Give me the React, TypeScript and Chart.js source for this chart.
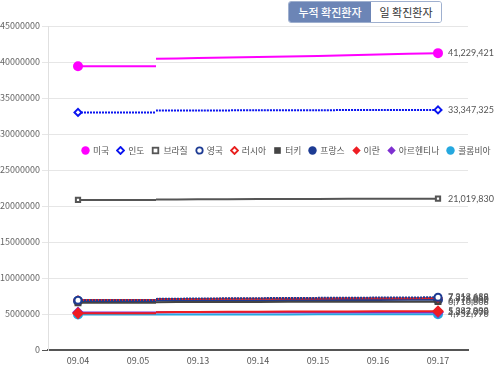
import React, { useEffect, useRef } from "react";
import { Chart, registerables } from "chart.js";

Chart.register(...registerables);

// x categories
const labels = ["09.04", "09.05", "09.13", "09.14", "09.15", "09.16", "09.17"];
// position on the category axis where every line restarts
const breakPos = 1.3;

// y axis
const yMax = 45000000;
const yStep = 5000000;

// legend / series names
const names = ["미국", "인도", "브라질", "영국", "러시아", "터키", "프랑스", "이란", "아르헨티나", "콜롬비아"];

// values per date (09.04, 09.05, 09.13 ... 09.17) and value where the line restarts
const usa = [39400000, 39400000, 40550000, 40700000, 40850000, 41050000, 41229421];
const usaRestart = 40450000;
const india = [33000000, 33000000, 33270000, 33290000, 33310000, 33330000, 33347325];
const indiaRestart = 33250000;
const brazil = [20850000, 20850000, 20930000, 20960000, 20980000, 21000000, 21019830];
const brazilRestart = 20900000;
const uk = [6900000, 6900000, 7150000, 7200000, 7240000, 7280000, 7318688];
const ukRestart = 7100000;
const russia = [6950000, 6950000, 7100000, 7130000, 7160000, 7190000, 7214819];
const russiaRestart = 7080000;
const turkey = [6550000, 6550000, 6660000, 6680000, 6695000, 6705000, 6716808];
const turkeyRestart = 6640000;
const france = [6820000, 6820000, 6900000, 6920000, 6940000, 6960000, 6976000];
const franceRestart = 6880000;
const iran = [5100000, 5100000, 5290000, 5320000, 5345000, 5365000, 5382998];
const iranRestart = 5260000;
const argentina = [5210000, 5210000, 5235000, 5238000, 5241000, 5244000, 5247000];
const argentinaRestart = 5230000;
const colombia = [4930000, 4930000, 4942000, 4945000, 4948000, 4950000, 4952976];
const colombiaRestart = 4940000;

const seriesValues = [usa, india, brazil, uk, russia, turkey, france, iran, argentina, colombia];
const seriesRestart = [usaRestart, indiaRestart, brazilRestart, ukRestart, russiaRestart, turkeyRestart, franceRestart, iranRestart, argentinaRestart, colombiaRestart];

type Style = { color: string; fill: string; shape: "circle" | "rectRot" | "rect"; dash: number[]; r: number };
const styles: Style[] = [
  { color: "#ff00ff", fill: "#ff00ff", shape: "circle", dash: [], r: 4 },
  { color: "#0a14f0", fill: "#ffffff", shape: "rectRot", dash: [2, 1], r: 3.5 },
  { color: "#555555", fill: "#ffffff", shape: "rect", dash: [], r: 3 },
  { color: "#1d3b93", fill: "#ffffff", shape: "circle", dash: [2, 1], r: 3.5 },
  { color: "#e8201f", fill: "#ffffff", shape: "rectRot", dash: [], r: 3.5 },
  { color: "#444444", fill: "#444444", shape: "rect", dash: [], r: 3.5 },
  { color: "#1d3b93", fill: "#1d3b93", shape: "circle", dash: [], r: 4 },
  { color: "#ee1d23", fill: "#ee1d23", shape: "rectRot", dash: [], r: 4.5 },
  { color: "#7e2fd0", fill: "#7e2fd0", shape: "rectRot", dash: [], r: 4.5 },
  { color: "#25a8df", fill: "#25a8df", shape: "circle", dash: [], r: 4 },
];

const FONT = "'Noto Sans CJK KR', 'Noto Sans', sans-serif";

const endLabels = {
  id: "endLabels",
  afterDatasetsDraw(chart: any) {
    const ctx = chart.ctx;
    ctx.save();
    ctx.font = "9px Lato, 'Noto Sans', sans-serif";
    ctx.fillStyle = "#555";
    ctx.textBaseline = "middle";
    ctx.textAlign = "left";
    chart.data.datasets.forEach((ds: any, i: number) => {
      if (!ds.isAfter) return;
      const meta = chart.getDatasetMeta(i);
      const el = meta.data[meta.data.length - 1];
      const v = ds.data[ds.data.length - 1].y;
      ctx.fillText(v.toLocaleString("en-US"), el.x + 10, el.y);
    });
    ctx.restore();
  },
};

function Marker({ s }: { s: Style }) {
  const sz = 9;
  const sw = s.fill === "#ffffff" ? 1.8 : 0;
  let shape: any;
  if (s.shape === "circle") shape = <circle cx={4.5} cy={4.5} r={sw ? 3.2 : 4.2} fill={s.fill} stroke={s.color} strokeWidth={sw} />;
  else if (s.shape === "rect") shape = <rect x={sw ? 1.7 : 1.2} y={sw ? 1.7 : 1.2} width={sw ? 5.6 : 6.6} height={sw ? 5.6 : 6.6} fill={s.fill} stroke={s.color} strokeWidth={sw} />;
  else shape = <polygon points={sw ? "4.5,1 8,4.5 4.5,8 1,4.5" : "4.5,0.3 8.7,4.5 4.5,8.7 0.3,4.5"} fill={s.fill} stroke={s.color} strokeWidth={sw} />;
  return (
    <svg width={sz} height={sz} style={{ display: "block" }}>
      {shape}
    </svg>
  );
}

export default function App() {
  const ref = useRef<HTMLCanvasElement | null>(null);
  useEffect(() => {
    if (!ref.current) return;
    const datasets: any[] = [];
    seriesValues.forEach((vals, i) => {
      const s = styles[i];
      datasets.push({
        label: names[i],
        data: [
          { x: 0, y: vals[0] },
          { x: 1, y: vals[1] },
          { x: breakPos, y: vals[1] },
        ],
        borderColor: s.color,
        backgroundColor: s.fill,
        borderWidth: 2,
        borderDash: s.dash,
        pointStyle: s.shape,
        pointRadius: [s.r, 0, 0],
        pointBorderWidth: 2,
        pointBorderColor: s.color,
        pointBackgroundColor: s.fill,
        tension: 0,
        order: i,
      });
    });
    seriesValues.forEach((vals, i) => {
      const s = styles[i];
      const pts = [{ x: breakPos, y: seriesRestart[i] }, ...vals.slice(2).map((y, k) => ({ x: k + 2, y }))];
      datasets.push({
        label: names[i],
        isAfter: true,
        data: pts,
        borderColor: s.color,
        backgroundColor: s.fill,
        borderWidth: 2,
        borderDash: s.dash,
        pointStyle: s.shape,
        pointRadius: pts.map((_, k) => (k === pts.length - 1 ? s.r : 0)),
        pointBorderWidth: 2,
        pointBorderColor: s.color,
        pointBackgroundColor: s.fill,
        tension: 0.3,
        order: i,
      });
    });
    const chart = new Chart(ref.current, {
      type: "line",
      data: { datasets },
      plugins: [endLabels],
      options: {
        animation: false,
        responsive: false,
        layout: { padding: { top: 26, right: 32, left: 0, bottom: 0 } },
        plugins: { legend: { display: false }, tooltip: { enabled: false } },
        scales: {
          x: {
            type: "linear",
            min: -0.5,
            max: 6.5,
            afterBuildTicks: (a: any) => {
              a.ticks = labels.map((_, i) => ({ value: i }));
            },
            afterFit: (s: any) => {
              s.height = 20;
            },
            ticks: {
              autoSkip: false,
              maxRotation: 0,
              padding: 5,
              color: "#555",
              font: { size: 9, family: FONT },
              callback: (v: any) => labels[v] ?? "",
            },
            grid: { display: false, drawTicks: false },
            border: { color: "#555", width: 2 },
          },
          y: {
            min: 0,
            max: yMax,
            afterFit: (s: any) => {
              s.width = 48;
            },
            ticks: {
              stepSize: yStep,
              padding: 2,
              color: "#666",
              font: { size: 9, family: FONT },
              callback: (v: any) => String(v),
            },
            grid: {
              color: (c: any) => (c.tick && c.tick.value === 0 ? "#555" : "#e6e6e6"),
              tickLength: 6,
            },
            border: { color: "#e0e0e0" },
          },
        },
      } as any,
    });
    return () => chart.destroy();
  }, []);

  return (
    <div style={{ position: "absolute", left: 0, top: 0, width: 500, height: 370, background: "#fff", fontFamily: FONT }}>
      <canvas ref={ref} width={500} height={370} style={{ position: "absolute", left: 0, top: 0 }} />
      <div
        style={{
          position: "absolute",
          left: 288,
          top: 1,
          height: 20,
          display: "flex",
          border: "1px solid #9fb0cf",
          borderRadius: 3,
          overflow: "hidden",
          fontSize: 11,
          lineHeight: "20px",
        }}
      >
        <div style={{ width: 82, background: "#6c85b6", color: "#fff", textAlign: "center", fontWeight: 500 }}>누적 확진환자</div>
        <div style={{ width: 70, background: "#fff", color: "#333", textAlign: "center" }}>일 확진환자</div>
      </div>
      <div
        style={{
          position: "absolute",
          left: 81,
          top: 144,
          display: "flex",
          alignItems: "center",
          fontSize: 8.8,
          color: "#555",
          whiteSpace: "nowrap",
        }}
      >
        {names.map((n, i) => (
          <div key={n} style={{ display: "flex", alignItems: "center", marginRight: 7 }}>
            <Marker s={styles[i]} />
            <span style={{ marginLeft: 3 }}>{n}</span>
          </div>
        ))}
      </div>
    </div>
  );
}
